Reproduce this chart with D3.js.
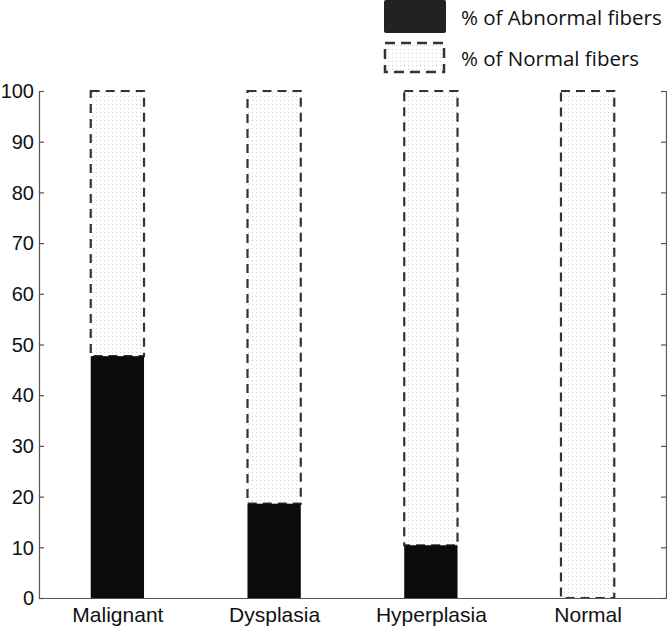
<!DOCTYPE html>
<html>
<head>
<meta charset="utf-8">
<script src="https://cdn.jsdelivr.net/npm/d3@7"></script>
<style>
  body { margin: 0; background: #fff; }
  svg { display: block; }
</style>
</head>
<body>
<div id="plot"></div>
<script>
// data
var categories = ['Malignant', 'Dysplasia', 'Hyperplasia', 'Normal'];
var abnormal = [47.7, 18.6, 10.4, 0];
var normal = [52.3, 81.4, 89.6, 100];
var yTicks = [0, 10, 20, 30, 40, 50, 60, 70, 80, 90, 100];
var legendLabels = ['% of Abnormal fibers', '% of Normal fibers'];

var W = 667, H = 628;
var margin = {t:91, r:1, b:30, l:39};
var width = W - margin.l - margin.r,
    height = H - margin.t - margin.b;

var svg = d3.select('#plot')
  .append('svg')
  .attr('width', W)
  .attr('height', H);

// light dotted fill
var defs = svg.append('defs');
var pat = defs.append('pattern')
  .attr('id', 'dots')
  .attr('patternUnits', 'userSpaceOnUse')
  .attr('width', 4)
  .attr('height', 4);
pat.append('rect').attr('width', 4).attr('height', 4).attr('fill', '#fff');
pat.append('rect').attr('x', 1).attr('y', 1).attr('width', 1).attr('height', 1).attr('fill', '#cfcfcf');

var plot = svg.append('g')
  .attr('transform', 'translate(' + margin.l + ',' + margin.t + ')');

// matlab style: categories 1..4, limits 0.5..4.5
var x = d3.scaleLinear().domain([0.5, 4.5]).range([0, width]);
var y = d3.scaleLinear().domain([0, 100]).range([height, 0]);
var barW = x(1.34) - x(1);

// normal part (dashed, dotted) on top of abnormal part
plot.selectAll('.nrm')
  .data(normal)
  .enter()
  .append('rect')
  .attr('class', 'nrm')
  .attr('x', function(d, i){ return x(i + 1) - barW / 2; })
  .attr('y', function(d, i){ return y(abnormal[i] + d); })
  .attr('width', barW)
  .attr('height', function(d){ return y(0) - y(d); })
  .attr('fill', 'url(#dots)')
  .attr('stroke', '#333')
  .attr('stroke-width', 2.2)
  .attr('stroke-dasharray', '9,6');

plot.selectAll('.abn')
  .data(abnormal)
  .enter()
  .append('rect')
  .attr('class', 'abn')
  .attr('x', function(d, i){ return x(i + 1) - barW / 2; })
  .attr('y', function(d){ return y(d); })
  .attr('width', barW)
  .attr('height', function(d){ return y(0) - y(d); })
  .attr('fill', '#0b0b0b');

// axes
var font = '"Liberation Sans", Arial, sans-serif';
var left = plot.append('g')
  .call(d3.axisRight(y).tickValues(yTicks).tickSize(5).tickFormat(''));
plot.append('g')
  .selectAll('text')
  .data(yTicks)
  .enter()
  .append('text')
  .attr('x', -5)
  .attr('y', function(d){ return y(d); })
  .attr('dy', '0.36em')
  .attr('text-anchor', 'end')
  .attr('font-family', font)
  .attr('font-size', 20)
  .attr('fill', '#111')
  .text(function(d){ return d; });

var right = plot.append('g')
  .attr('transform', 'translate(' + width + ',0)')
  .call(d3.axisLeft(y).tickValues(yTicks).tickSize(5).tickFormat(''));

var bottom = plot.append('g')
  .attr('transform', 'translate(0,' + height + ')')
  .call(d3.axisBottom(x).tickValues([1, 2, 3, 4]).tickSize(0)
    .tickFormat(function(d){ return categories[d - 1]; }));
bottom.selectAll('text')
  .attr('font-family', font)
  .attr('font-size', 21)
  .attr('fill', '#111')
  .attr('y', 24)
  .attr('dy', 0);

[left, right, bottom].forEach(function(g){
  g.select('.domain').attr('stroke', '#555').attr('stroke-width', 1.2);
  g.selectAll('.tick line').attr('stroke', '#555').attr('stroke-width', 1.2);
});

// legend
var legend = svg.append('g').attr('transform', 'translate(383,0)');
legend.append('rect')
  .attr('x', 1).attr('y', 0)
  .attr('width', 62).attr('height', 33)
  .attr('rx', 2)
  .attr('fill', '#222');
legend.append('rect')
  .attr('x', 2).attr('y', 43)
  .attr('width', 59).attr('height', 29)
  .attr('fill', 'url(#dots)')
  .attr('stroke', '#333')
  .attr('stroke-width', 2.5)
  .attr('stroke-dasharray', '10,6');
legend.selectAll('text')
  .data(legendLabels)
  .enter()
  .append('text')
  .attr('x', 78)
  .attr('y', function(d, i){ return 25 + i * 41; })
  .attr('font-family', '"Open Sans", sans-serif')
  .attr('font-size', 20.5)
  .attr('fill', '#111')
  .text(function(d){ return d; });
</script>
</body>
</html>
